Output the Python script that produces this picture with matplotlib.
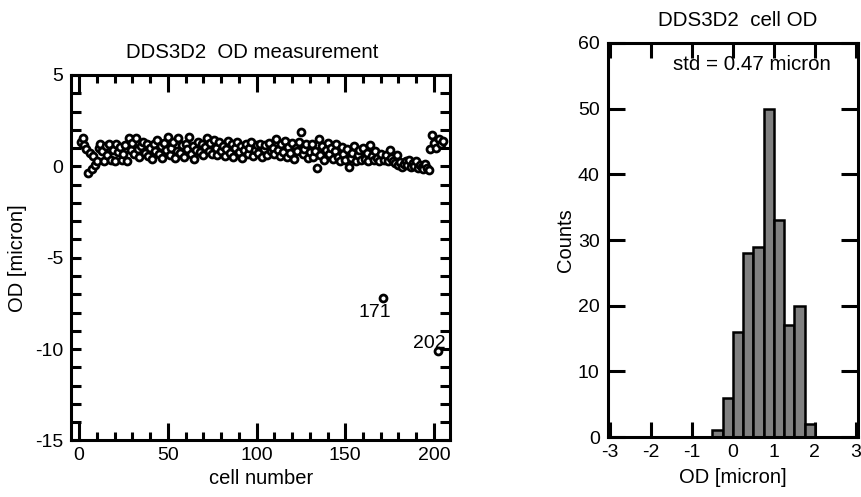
import numpy as np
import matplotlib
matplotlib.use("Agg")
import matplotlib.pyplot as plt
from matplotlib.ticker import MultipleLocator

plt.rcParams['font.family'] = ['Liberation Sans', 'DejaVu Sans']
plt.rcParams['axes.unicode_minus'] = False

# ---- data: OD per cell ----
od_values = [
    1.35, 1.55, 1.15, 0.95, -0.35, 0.75, -0.15, 0.55, 0.05, 0.3,
    1.0, 1.2, 0.85, 0.3, 1.1, 0.6, 1.25, 0.35, 0.9, 0.3,
    1.2, 0.8, 1.05, 0.35, 0.7, 1.15, 0.3, 1.55, 0.9, 1.3,
    0.65, 1.55, 0.95, 0.5, 1.1, 1.35, 0.75, 1.2, 0.55, 1.0,
    0.4, 1.2, 0.85, 1.45, 0.7, 1.1, 0.45, 1.3, 0.9, 1.6,
    0.6, 1.0, 1.35, 0.45, 0.85, 1.55, 0.75, 1.15, 0.5, 1.25,
    0.95, 1.6, 0.7, 1.1, 0.4, 0.9, 1.35, 0.8, 1.2, 0.6,
    1.05, 1.55, 0.85, 1.3, 0.7, 1.45, 1.0, 0.6, 1.35, 0.85,
    1.1, 0.55, 0.95, 1.4, 0.75, 1.2, 0.5, 1.0, 1.35, 0.8,
    1.1, 0.45, 0.9, 1.25, 0.7, 1.0, 1.35, 0.55, 0.9, 1.15,
    0.75, 1.25, 0.5, 0.95, 1.15, 0.6, 1.3, 0.85, 1.0, 0.7,
    1.5, 0.9, 0.55, 1.2, 0.8, 1.4, 0.5, 1.05, 0.75, 1.3,
    0.4, 1.0, 0.85, 1.35, 1.9, 0.7, 0.95, 1.2, 0.45, 0.8,
    1.25, 0.5, 0.85, -0.1, 1.5, 0.6, 1.1, 0.35, 0.9, 1.3,
    0.7, 1.0, 0.4, 0.85, 1.2, 0.5, 0.3, 1.05, 0.65, 0.35,
    0.95, -0.05, 0.45, 0.75, 1.1, 0.3, 0.6, 0.9, 0.35, 1.0,
    0.4, 0.75, 0.3, 1.15, 0.55, 0.35, 0.85, 0.45, 0.3, 0.7,
    -7.2, 0.35, 0.6, 0.3, 0.9, 0.45, 0.3, 0.2, 0.6, 0.1,
    0.25, -0.05, 0.15, 0.3, 0.05, 0.35, -0.05, 0.2, 0.0, 0.3,
    -0.1, 0.1, -0.05, -0.15, 0.15, -0.1, -0.2, 0.95, 1.7, 1.3,
    1.0, -10.1, 1.5, 1.2, 1.4,
]
cell_numbers = list(range(1, len(od_values) + 1))
outlier_cells = [171, 202]
outlier_labels = ["171", "202"]

# ---- data: histogram ----
bin_edges = [-0.5, -0.25, 0.0, 0.25, 0.5, 0.75, 1.0, 1.25, 1.5, 1.75, 2.0]
bin_counts = [1, 6, 16, 28, 29, 50, 33, 17, 20, 2]
std_text = "std = 0.47 micron"

fig = plt.figure(figsize=(8.62, 4.97), dpi=100)

SPW = 2.2
# ---------------- left panel ----------------
ax1 = fig.add_axes([0.0829, 0.1137, 0.4397, 0.7354])
ax1.plot(cell_numbers, od_values, linestyle='none', marker='o',
         markersize=5.0, markerfacecolor='white', markeredgecolor='black',
         markeredgewidth=2.0)
ax1.set_xlim(-4.3, 209.3)
ax1.set_ylim(-15, 5)
ax1.xaxis.set_major_locator(MultipleLocator(50))
ax1.xaxis.set_minor_locator(MultipleLocator(10))
ax1.yaxis.set_major_locator(MultipleLocator(5))
ax1.yaxis.set_minor_locator(MultipleLocator(1))
ax1.tick_params(axis='both', which='both', direction='in', top=True, right=True,
                width=SPW, labelsize=14, colors='black')
ax1.tick_params(axis='x', which='major', length=12, pad=5)
ax1.tick_params(axis='x', which='minor', length=6)
ax1.tick_params(axis='y', which='major', length=7, pad=6)
ax1.tick_params(axis='y', which='minor', length=7)
for s in ax1.spines.values():
    s.set_linewidth(SPW)
ax1.set_xlabel("cell number", fontsize=14.5, labelpad=3)
ax1.set_ylabel("OD [micron]", fontsize=14.5, labelpad=6)
ax1.set_title("DDS3D2  OD measurement", fontsize=14.7, x=0.476, pad=12)
label_offsets = [(6, -4), (6, -1)]
label_va = ['top', 'bottom']
for c, lab, off, va in zip(outlier_cells, outlier_labels, label_offsets, label_va):
    v = od_values[c - 1]
    ax1.annotate(lab, xy=(c, v), xytext=off, textcoords='offset points',
                 ha='right', va=va, fontsize=14)

# ---------------- right panel ----------------
ax2 = fig.add_axes([0.7053, 0.1207, 0.2900, 0.7928])
widths = np.diff(bin_edges)
ax2.bar(bin_edges[:-1], bin_counts, width=widths, align='edge',
        color='#808080', edgecolor='black', linewidth=1.8, zorder=3)
ax2.set_xlim(-3.05, 3.05)
ax2.set_ylim(0, 60)
ax2.xaxis.set_major_locator(MultipleLocator(1))
ax2.yaxis.set_major_locator(MultipleLocator(10))
ax2.tick_params(axis='both', which='major', direction='in', top=True, right=True,
                width=SPW, labelsize=14, colors='black')
ax2.tick_params(axis='x', length=11, pad=5)
ax2.tick_params(axis='y', length=12, pad=6)
for s in ax2.spines.values():
    s.set_linewidth(SPW)
    s.set_zorder(4)
ax2.set_xlabel("OD [micron]", fontsize=14.5, labelpad=5)
ax2.set_ylabel("Counts", fontsize=14.5, labelpad=2)
ax2.set_title("DDS3D2  cell OD", fontsize=14.8, x=0.518, pad=12)
ax2.text(-1.47, 56.8, std_text, fontsize=14.8, ha='left', va='center')

fig.savefig("out.png", dpi=100)
